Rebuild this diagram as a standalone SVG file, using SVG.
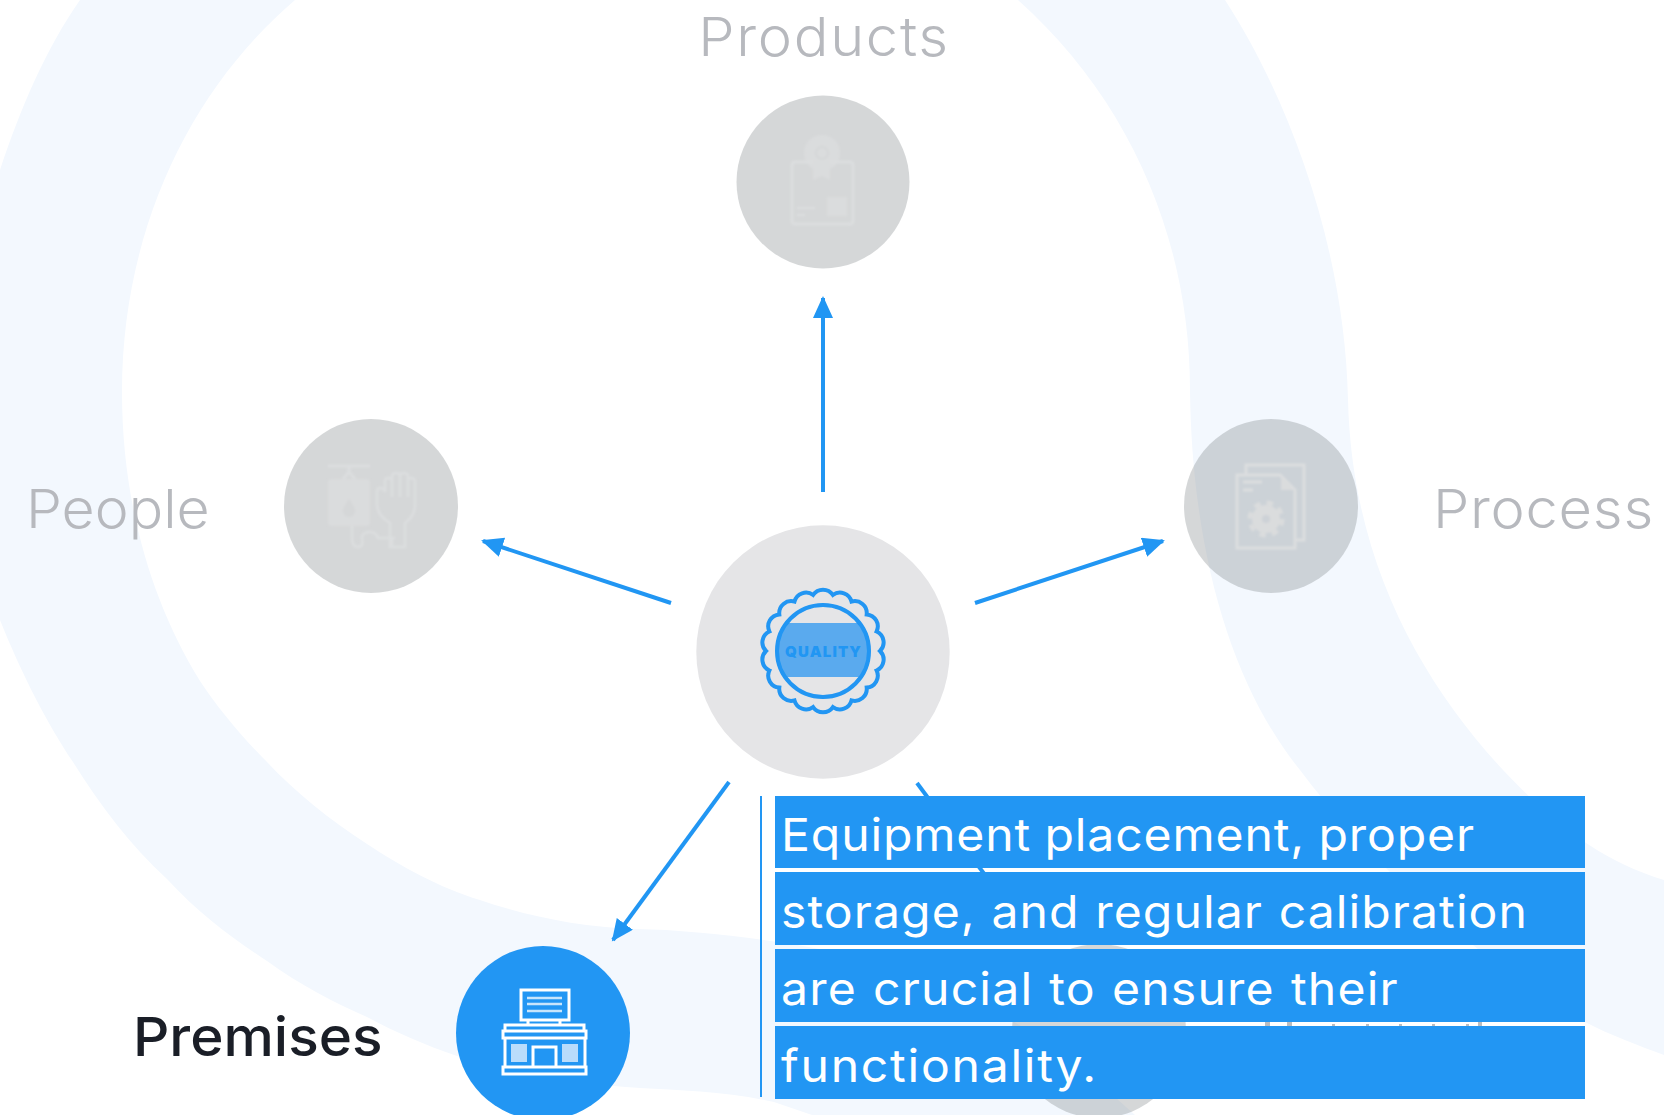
<svg xmlns="http://www.w3.org/2000/svg" width="1664" height="1115" viewBox="0 0 1664 1115">
<style>
.band{fill:#f3f8fe}
.disc{fill:#73797d;fill-opacity:.3}
.lbl{font-family:Inter,"Liberation Sans",sans-serif;font-size:54px;font-weight:300;fill:#b7b9be}
.ink{fill:none;stroke:#dcdedf;stroke-width:3}
.solid{fill:#dadcdd}
.wl{fill:none;stroke:#fff;stroke-width:3}
.conn{fill:none;stroke:#2196f3;stroke-width:4;marker-end:url(#ah)}
.bar{fill:#2296f3}
.txt{font-family:Inter,"Liberation Sans",sans-serif;font-size:45px;font-weight:400;fill:#fff}
</style>
<defs>
<marker id="ah" markerUnits="userSpaceOnUse" markerWidth="24" markerHeight="22" refX="20" refY="10" orient="auto"><path d="M0 0L22 10L0 20Z" fill="#2196f3"/></marker>
<clipPath id="qc"><circle cx="823" cy="651" r="46"/></clipPath>
<filter id="soft" x="-10%" y="-10%" width="120%" height="120%"><feGaussianBlur stdDeviation="0.8"/></filter>
<filter id="soft2" x="-10%" y="-10%" width="120%" height="120%"><feGaussianBlur stdDeviation="0.45"/></filter>
</defs>
<rect width="1664" height="1115" fill="#fff"/>
<g id="background">
<path class="band" d="M1018 0C1130 100 1190 240 1190 390C1192 560 1235 690 1300 770C1375 870 1480 960 1585 1022C1610 1035 1640 1046 1664 1055V880C1600 860 1555 825 1503 770C1420 680 1352 560 1348 400C1345 250 1290 100 1225 0Z"/>
<path class="band" d="M80 0C45 50 20 110 0 170V620C22 675 48 725 73 762C100 805 130 845 167 879C200 915 235 940 267 961C300 985 335 1003 367 1017C395 1032 425 1045 457 1056C515 1073 575 1084 640 1088C680 1090 730 1092 774 1102L812 1115H1135C1090 1075 1000 990 850 955C790 942 700 930 637 929C580 927 530 917 480 900C440 888 400 866 367 844C330 820 295 792 267 762C240 735 218 708 200 681C150 600 122 500 122 392C122 230 190 90 295 0Z"/>
</g>
<g id="connectors">
<path class="conn" d="M823 492V298"/>
<path class="conn" d="M671 603L483 541"/>
<path class="conn" d="M975 603L1163 541"/>
<path class="conn" d="M729 782L613 940"/>
<path class="conn" d="M917 783L1033 940"/>
</g>
<g id="node-quality">
<circle cx="823" cy="652" r="126.7" fill="#e5e5e7"/>
<g filter="url(#soft2)">
<rect x="775" y="623" width="96" height="54" fill="#5aaaee" clip-path="url(#qc)"/>
<circle cx="823" cy="651" r="46" fill="none" stroke="#2196f3" stroke-width="4"/>
<path transform="translate(823 651)" fill="none" stroke="#2196f3" stroke-width="4" d="M57 0A12 12 0 0 1 53.6 19.5A12 12 0 0 1 43.7 36.6A12 12 0 0 1 28.5 49.4A12 12 0 0 1 9.9 56.1A12 12 0 0 1 -9.9 56.1A12 12 0 0 1 -28.5 49.4A12 12 0 0 1 -43.7 36.6A12 12 0 0 1 -53.6 19.5A12 12 0 0 1 -57 0A12 12 0 0 1 -53.6 -19.5A12 12 0 0 1 -43.7 -36.6A12 12 0 0 1 -28.5 -49.4A12 12 0 0 1 -9.9 -56.1A12 12 0 0 1 9.9 -56.1A12 12 0 0 1 28.5 -49.4A12 12 0 0 1 43.7 -36.6A12 12 0 0 1 53.6 -19.5A12 12 0 0 1 57 0Z"/>
</g>
<text x="823" y="657" text-anchor="middle" font-family="Inter,'Liberation Sans',sans-serif" font-size="15" font-weight="900" fill="#2196f3" textLength="76">QUALITY</text>
</g>
<g id="node-products">
<circle class="disc" cx="823" cy="182" r="86.5"/>
<g filter="url(#soft)">
<circle class="solid" cx="822" cy="153" r="18"/>
<circle cx="822" cy="153" r="6" fill="none" stroke="#d5d7d8" stroke-width="2"/>
<rect class="ink" x="792" y="162" width="61" height="62" rx="3"/>
<path class="solid" d="M813 161H830V180L822 176L813 180Z"/>
<path class="solid" d="M827 197H847V216H827Z"/>
<path class="ink" d="M797 208H815M797 215H805" style="stroke-width:2"/>
</g>
</g>
<text class="lbl" transform="translate(824 56) scale(1.07 1)" text-anchor="middle" letter-spacing="1.6">Products</text>
<g id="node-people">
<circle class="disc" cx="371" cy="506" r="87"/>
<g filter="url(#soft)">
<path class="ink" d="M328 466H370M349 466V472M343 479L349 472L355 479"/>
<rect class="solid" x="328" y="479" width="42" height="47" rx="4"/>
<path d="M349 499C345 505 343 508 343 511A6 6 0 0 0 355 511C355 508 353 505 349 499Z" fill="#d5d7d8"/>
<path class="ink" style="stroke-width:2.5" d="M352 526V538Q352 547 358 547T362 538V536Q364 532 370 532Q376 532 378 538H395M392 538V547"/>
<path class="ink" style="stroke-width:2.5" d="M390 547V523Q378 516 377 505V492Q377 488 380 488Q384 488 385 492V481Q385 478 388 478Q392 478 392 481V476Q392 473 396 473Q400 473 400 476Q400 473 404 473Q408 473 408 477V480Q408 478 411 478Q415 478 415 482V505Q415 516 405 523V547ZM392 481V497M400 476V497M408 480V497"/>
</g>
</g>
<text class="lbl" transform="translate(26 528) scale(1.06 1)">People</text>
<g id="node-process">
<circle class="disc" cx="1271" cy="506" r="87"/>
<g filter="url(#soft)">
<path class="ink" d="M1246 475V465H1304V540H1295"/>
<path class="ink" d="M1237 475H1280L1295 490V548H1237Z"/>
<path class="solid" d="M1281 476L1294 490H1281Z"/>
<path class="ink" d="M1243 482H1262M1243 490H1253"/>
<circle cx="1266" cy="519" r="16" fill="none" stroke="#dadcdd" stroke-width="5" stroke-dasharray="6.3 6.3"/>
<circle class="solid" cx="1266" cy="519" r="14"/>
<circle cx="1266" cy="519" r="4" fill="#cdd2d7"/>
</g>
</g>
<text class="lbl" transform="translate(1433 528) scale(1.07 1)" letter-spacing="0.7">Process</text>
<g id="node-equipment">
<circle class="disc" cx="1099" cy="1031" r="87"/>
<path d="M1265 1022h5v5h-5zM1287 1022h5v5h-5zM1478 1022h4v5h-4zM1332 1024h3v2h-3zM1366 1024h3v2h-3zM1399 1024h3v2h-3zM1432 1024h3v2h-3zM1466 1024h3v2h-3z" fill="#bbbdc1"/>
</g>
<g id="node-premises">
<circle cx="543" cy="1033" r="87" fill="#2296f3"/>
<g filter="url(#soft2)">
<rect class="wl" x="521" y="990" width="48" height="30"/>
<path class="wl" d="M527 998H562M527 1004H562M527 1011H562" style="stroke-width:2.5;stroke-opacity:.75"/>
<path class="wl" d="M528 1020V1025M560 1020V1025"/>
<path class="wl" d="M505 1031V1025H584V1031"/>
<rect class="wl" x="503" y="1031" width="83" height="7"/>
<path class="wl" d="M505 1038V1067M585 1038V1067"/>
<rect class="wl" x="503" y="1067" width="83" height="7"/>
<path d="M511 1044H527V1062H511ZM562 1044H578V1062H562Z" fill="#b9dcfb"/>
<path class="wl" d="M533 1067V1047H556V1067"/>
</g>
</g>
<text transform="translate(133 1056) scale(1.05 1)" font-family="Inter,'Liberation Sans',sans-serif" font-size="54" font-weight="500" fill="#1a1e27">Premises</text>
<g id="callout">
<rect class="bar" x="760" y="796" width="2" height="301"/>
<rect class="bar" x="775" y="796" width="810" height="72"/>
<rect class="bar" x="775" y="872" width="810" height="73"/>
<rect class="bar" x="775" y="949" width="810" height="73"/>
<rect class="bar" x="775" y="1026" width="810" height="73"/>
<text class="txt" transform="translate(781 851) scale(1.07 1)" letter-spacing="0.8" word-spacing="-1">Equipment placement, proper</text>
<text class="txt" transform="translate(781 928) scale(1.07 1)" letter-spacing="1" word-spacing="1">storage, and regular calibration</text>
<text class="txt" transform="translate(781 1005) scale(1.07 1)" letter-spacing="1.1" word-spacing="1.3">are crucial to ensure their</text>
<text class="txt" transform="translate(781 1082) scale(1.07 1)" letter-spacing="1.6">functionality.</text>
</g>
</svg>
